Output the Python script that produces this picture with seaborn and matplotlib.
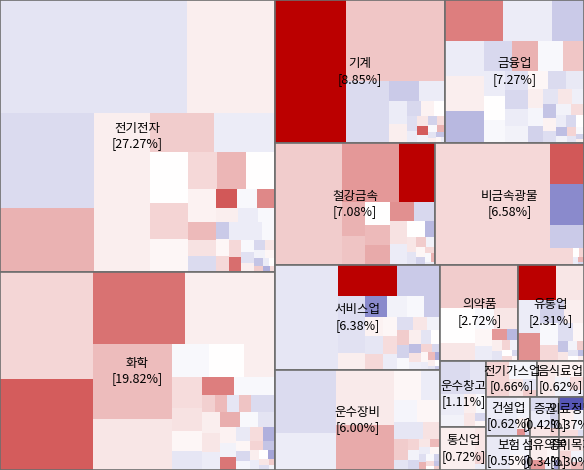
import matplotlib
matplotlib.use("Agg")
import matplotlib.pyplot as plt
from matplotlib.patches import Rectangle
import seaborn as sns

# sector names and their share of the total (shown in the labels)
sectors = ['전기전자', '화학', '기계', '금융업', '철강금속', '비금속광물', '서비스업', '운수장비',
           '의약품', '유통업', '운수창고', '통신업', '전기가스업', '음식료업', '건설업', '보험',
           '증권', '의료정밀', '섬유의복', '종이목재']
sector_pct = [27.27, 19.82, 8.85, 7.27, 7.08, 6.58, 6.38, 6.00,
              2.72, 2.31, 1.11, 0.72, 0.66, 0.62, 0.62, 0.55,
              0.42, 0.37, 0.34, 0.30]

# stock sizes (relative, inside each sector) and daily change (%)
elec_size = [20832, 9856, 8836, 5922, 4400, 4392, 2496, 2379, 1900, 1330, 1254, 1044, 1044, 1044,
             920, 506, 460, 437, 400, 380, 345, 315, 300, 238, 224, 224, 210,
             300, 280, 220, 200, 180, 160, 140, 120, 110, 100, 90, 80, 70, 60, 50, 45, 40, 30]
elec_chg = [-0.4, 0.2, -0.55, 0.9, 0.2, 0.2, 0.6, -0.3, 0.0, 0.5, 0.1, 0.45, 0.85, 0.0,
            0.15, 0.8, 0.35, -0.55, 1.95, -0.1, 1.4, 0.2, -0.3, -0.1, -0.8, 0.1, 0.45,
            -0.3, -0.3, -0.1, 0.45, 1.7, -0.1, -0.45, 0.2, -0.6, 0.3, -0.2, 0.1, -0.9, 0.6, -0.3, 0.0, -1.2, 0.4]

chem_size = [10137, 8556, 6716, 6570, 5928, 4056, 1221, 1188, 1023, 960, 696, 624, 588, 567, 525,
             210, 210, 210, 210, 210,
             420, 380, 350, 320, 300, 280, 260, 240, 220, 200, 190, 180, 160, 150, 140, 130,
             120, 110, 100, 90, 80, 70, 60, 50, 40, 30]
chem_chg = [0.47, 1.9, 1.65, 0.2, 0.78, 0.3, -0.1, 0.0, 0.2, 0.42, 0.33, 0.1, -0.38, 1.5, -0.1,
            -0.1, 0.55, 0.8, -0.38, 0.7,
            -0.55, 0.2, 0.3, -0.3, 0.95, -0.1, -0.4, 0.15, -0.2, 1.6, -0.35, 0.4, -1.2, 0.1, -0.6, -0.15,
            0.5, -0.9, 0.2, -0.3, 0.0, -1.4, 0.3, -0.5, 0.6, -0.2]

mach_size = [9869, 4000, 3742, 2520, 570, 494, 396, 342, 210,
             180, 160, 140, 120, 110, 100, 90, 80, 70, 60, 50, 45, 40, 35, 30, 25]
mach_chg = [3.5, 0.67, 0.67, -0.55, -0.8, -0.3, -0.3, 0.2, -0.6,
            0.15, 0.0, -0.5, -0.3, 0.3, 1.9, -0.2, -0.7, 0.4, -0.1, 0.9, -0.4, 0.2, -0.9, 0.1, -0.3]

fin_size = [2242, 1862, 1216, 1295, 1258, 1184, 812, 728, 700, 588,
            500, 480, 450, 420, 400, 380, 360, 340, 320, 300, 280, 260, 240, 220, 200, 180,
            170, 160, 150, 140, 130, 120, 110, 100, 90, 80, 70, 60, 50, 40, 30]
fin_chg = [1.5, -0.3, -0.8, -0.3, 0.2, -1.1, -0.6, 0.9, -0.1, 0.67,
           -0.3, 0.0, -0.1, -0.45, -0.6, -0.3, -0.2, 0.1, -0.55, -0.35, 0.2, -0.15, -0.7, -0.4, 0.3, -0.25,
           -0.9, 0.15, -0.5, -0.2, 0.4, -0.3, -0.6, 0.0, -1.0, -0.2, 0.5, -0.4, -0.1, -0.7, 0.2]

steel_size = [8174, 3363, 2124, 748, 638, 572, 520, 494, 456, 400, 384, 336, 300,
              160, 140, 120, 100, 90, 80, 70, 60, 50, 40, 30]
steel_chg = [0.6, 1.2, 3.5, 0.9, 0.7, 0.0, 0.8, 1.0, 1.3, -0.6, 0.35, -0.3, 0.0,
             -1.1, 0.3, -0.4, 0.6, -0.2, 0.1, -0.7, 0.45, -0.1, 0.9, -0.3]

mineral_size = [14030, 1394, 1394, 782, 391, 60, 50, 40, 25, 15]
mineral_chg = [0.45, 1.95, -1.8, -0.8, 0.45, 0.0, 0.5, -0.3, 0.9, -0.6]

serv_size = [6804, 1947, 1419, 900, 700, 500, 460, 420, 350, 340, 340, 330, 300, 280, 260, 240,
             220, 200, 190, 180, 170, 160, 150, 140, 130, 120, 110, 100, 90, 80, 70, 60, 50, 45, 40, 35, 30, 25]
serv_chg = [-0.38, 3.5, -0.8, -0.5, -0.45, 0.2, -1.8, -0.2, -0.1, -0.8, 0.15, -0.38, 0.45, 0.1, 0.4, -0.3,
            -0.5, 0.3, -0.2, 0.6, -0.7, -0.1, 0.2, -0.4, 0.0, -1.0, 0.35, -0.25, 0.5, -0.6, 0.1, -0.3, 0.8, -1.3,
            0.2, -0.4, 0.0, -0.8]

trans_size = [3843, 2318, 3127, 2597, 810, 598, 525, 504, 484, 300, 300,
              150, 130, 120, 110, 100, 90, 80, 70, 60, 55, 50, 45, 40, 35, 30, 25]
trans_chg = [-0.55, -0.3, 0.25, 1.0, 0.1, -0.3, -0.15, 0.1, -0.38, 0.35, 0.6,
             -0.4, 0.5, -0.2, -0.6, 0.3, 0.8, -0.3, 0.1, -0.5, 0.9, -0.1, -0.7, 0.4, 0.0, -0.9, 0.6]

pharma_size = [3344, 1184, 600, 400, 496, 300, 250, 169, 120, 100, 90, 80, 70, 60, 50, 40, 30]
pharma_chg = [0.6, 0.0, 0.3, -0.1, 0.3, 0.1, -0.3, 1.2, -1.1, 0.2, -0.4, 0.5, -0.2, 0.0, 0.4, -0.6, 0.1]

retail_size = [1376, 1032, 740, 625, 560, 450, 400, 300, 260, 200, 110, 90, 80, 70, 60, 50, 40, 30]
retail_chg = [3.5, 0.3, -0.3, 1.3, -0.7, 0.2, -0.1, 0.45, -0.5, 0.1, -0.9, 0.3, -0.2, 0.6, -0.4, 0.0, -1.0, 0.2]

logis_size = [1000, 560, 500, 300, 250, 200, 150, 100, 68]
logis_chg = [-0.55, -0.4, -0.3, -0.2, 0.2, -0.1, 0.3, -0.6, 0.1]

tele_size = [1500, 300, 150, 74]
tele_chg = [0.2, 0.3, 0.5, -0.3]

util_size = [800, 500, 250, 150, 100]
util_chg = [0.5, -0.15, 0.3, -0.4, 0.6]

food_size = [700, 500, 300, 200, 100]
food_chg = [0.25, 0.15, -0.2, 0.4, -0.3]

const_size = [700, 500, 300, 150, 60, 40]
const_chg = [-0.3, -0.45, -0.2, 0.2, 1.3, -0.6]

insur_size = [800, 400, 200, 100]
insur_chg = [-0.35, -0.15, 0.1, -0.5]

sec_size = [400, 300, 200, 150, 80]
sec_chg = [-0.55, -0.3, 0.3, -0.7, 0.5]

medi_size = [350, 300, 200, 150, 50]
medi_chg = [-2.6, 0.2, -0.2, 0.4, -0.5]

textile_size = [400, 300, 150, 100, 50]
textile_chg = [0.2, 0.1, 1.2, -0.3, -1.5]

paper_size = [350, 250, 150, 100]
paper_chg = [0.3, 0.5, -0.2, 0.8]

stock_sizes = [elec_size, chem_size, mach_size, fin_size, steel_size, mineral_size, serv_size, trans_size,
               pharma_size, retail_size, logis_size, tele_size, util_size, food_size, const_size, insur_size,
               sec_size, medi_size, textile_size, paper_size]
stock_chgs = [elec_chg, chem_chg, mach_chg, fin_chg, steel_chg, mineral_chg, serv_chg, trans_chg,
              pharma_chg, retail_chg, logis_chg, tele_chg, util_chg, food_chg, const_chg, insur_chg,
              sec_chg, medi_chg, textile_chg, paper_chg]


def worst(row, side):
    s = sum(row)
    return max(max(side * side * a / (s * s), s * s / (side * side * a)) for a in row)


def squarify(values, x, y, w, h):
    total = float(sum(values))
    areas = [v * w * h / total for v in values]
    out = []
    i = 0
    while i < len(areas):
        side = min(w, h)
        row = [areas[i]]
        j = i + 1
        while j < len(areas) and worst(row + [areas[j]], side) <= worst(row, side):
            row.append(areas[j])
            j += 1
        s = sum(row)
        if w >= h:
            cw = s / h
            yy = y
            for a in row:
                out.append((x, yy, cw, a / cw))
                yy += a / cw
            x += cw
            w -= cw
        else:
            rh = s / w
            xx = x
            for a in row:
                out.append((xx, y, a / rh, rh))
                xx += a / rh
            y += rh
            h -= rh
        i = j
    return out


sns.set_theme(style='white')
plt.rcParams['font.family'] = ['Noto Sans CJK KR', 'DejaVu Sans']

cmap = sns.blend_palette(['#3C3CAA', '#FFFFFF', '#BB0000'], as_cmap=True)
norm = plt.Normalize(-3, 3)

W, VH = 584, 484  # layout space (drawn squeezed to 470 px)
fig = plt.figure(figsize=(5.84, 4.70), dpi=100)
ax = fig.add_axes([0, 0, 1, 1])
ax.set_xlim(0, W)
ax.set_ylim(VH, 0)
ax.axis('off')

sector_rects = squarify(sector_pct, 0, 0, W, VH)
for (sx, sy, sw, sh), name, pct, sizes, chgs in zip(sector_rects, sectors, sector_pct, stock_sizes, stock_chgs):
    for (x, y, w, h), c in zip(squarify(sizes, sx, sy, sw, sh), chgs):
        ax.add_patch(Rectangle((x, y), w, h, facecolor=cmap(norm(c)), edgecolor='none',
                               linewidth=0, antialiased=False))
    ax.add_patch(Rectangle((sx, sy), sw, sh, fill=False, edgecolor='#6E6E6E', linewidth=1.2))
    t = ax.text(sx + sw / 2, sy + sh / 2, f"{name}\n[{pct:.2f}%]", ha='center', va='center',
                fontsize=9, color='black', linespacing=1.25)
    t.set_clip_path(Rectangle((sx, sy), sw, sh, transform=ax.transData))

fig.savefig('out.png', dpi=100)
